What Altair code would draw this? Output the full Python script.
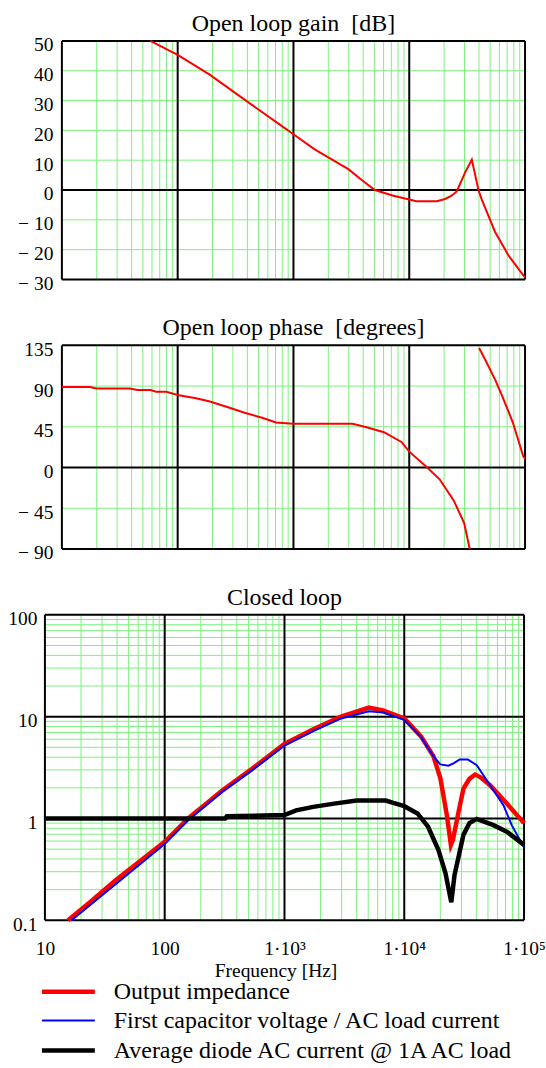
import altair as alt
import pandas as pd

FONT = "Liberation Serif"
GRID_GREEN = "#80f080"
RED, BLUE, BLACK = "#ff0000", "#0000ff", "#000000"

# Frequency axis (Hz)
F_LO, F_HI = 10, 100000
DECADES = [10, 100, 1000, 10000, 100000]
MINOR_F = [m * d for d in DECADES[:-1] for m in range(2, 10)]

# Open-loop gain [dB]
gain_f = [58, 100, 189, 378, 757, 1000, 1513, 2978, 3960, 5050, 7300, 10000,
          11500, 17300, 20400, 23000, 25700, 30400, 34700, 39600, 42400,
          55000, 71800, 96700, 100000]
gain_db = [50, 45.3, 38.7, 30.3, 22, 18.7, 13.7, 7, 3.1, 0, -1.9, -3.2,
           -3.8, -3.8, -3.0, -2.0, -0.5, 5.9, 10.2, 0, -3.3,
           -14, -21.9, -28.6, -29.4]

# Open-loop phase [degrees], two branches (wraps at -90 / +135)
phase_f = [10, 17.4, 20, 38.6, 45, 58.5, 65, 80, 100, 144, 190, 268, 379, 536,
           707, 1000, 3240, 4280, 6050, 8560, 10000, 13900, 18300, 24200,
           29800, 33300,
           40100, 45100, 55500, 63800, 78500, 96600, 100000]
phase_deg = [89, 89, 87.3, 87.3, 85.6, 85.6, 83.8, 83.8, 80.2, 76.6, 73, 66.9,
             60.5, 55, 49.7, 48.3, 48.3, 44.4, 39, 28.2, 17.5, 1.4, -13, -36.3,
             -61.3, -90,
             132, 119.6, 96.3, 78.4, 49.7, 12.1, 10]
phase_branch = [1] * 26 + [2] * 7

# Closed loop responses
SERIES = ["Output impedance",
          "First capacitor voltage / AC load current",
          "Average diode AC current @ 1A AC load"]

zout_f = [15.6, 24.2, 38.5, 100, 157, 306, 522, 1000, 1741, 2970, 5070, 6630,
          10000, 13800, 17500, 20000, 22700, 24500, 25500, 28400, 31200,
          35000, 39000, 43000, 52000, 71800, 100000]
zout_v = [0.1, 0.153, 0.245, 0.59, 1.0, 1.9, 3.0, 5.4, 7.5, 10.0, 12.3, 11.5,
          9.6, 6.4, 4.1, 2.5, 1.07, 0.55, 0.62, 1.16, 1.97,
          2.45, 2.7, 2.55, 2.12, 1.4, 0.9]

vcap_f = [16.7, 100, 157, 306, 522, 1000, 1741, 2970, 5070, 6630, 10000,
          13800, 17500, 20000, 23400, 26000, 29000, 34000, 40300, 52000,
          67300, 78900, 100000]
vcap_v = [0.1, 0.56, 0.96, 1.85, 2.9, 5.2, 7.2, 9.6, 11.3, 11.0, 9.3,
          6.3, 4.1, 3.4, 3.3, 3.5, 3.8, 3.8, 3.33, 2.12,
          1.35, 0.86, 0.52]

idio_f = [10, 320, 330, 1000, 1250, 1740, 2600, 4000, 7000, 8100, 10000,
          12900, 15800, 19300, 22100, 24700, 26300, 31200, 35000, 40300,
          55500, 71800, 100000]
idio_v = [1.0, 1.0, 1.05, 1.08, 1.2, 1.3, 1.4, 1.5, 1.5, 1.42, 1.32,
          1.12, 0.83, 0.49, 0.29, 0.15, 0.28, 0.69, 0.9, 0.99,
          0.86, 0.74, 0.55]

GAIN_TICKS = list(range(-30, 60, 10))
PHASE_TICKS = [-90, -45, 0, 45, 90, 135]
CL_TICKS = [0.1, 1, 10, 100]

# Open-loop panels: plot starts 17 px right of the closed-loop panel
DEC_PX = 116
LEFT_GAP = 17
ol_x_scale = alt.Scale(type="log", domain=[10 ** (1 - LEFT_GAP / DEC_PX), F_HI], nice=False)
ol_width = round(DEC_PX * 4 + LEFT_GAP)


def vrules(values, color, width, x_enc):
    return alt.Chart(pd.DataFrame({"f": values})).mark_rule(
        color=color, strokeWidth=width).encode(x=x_enc)


def hrules(values, color, width, x_scale, x_axis, y_enc):
    df = pd.DataFrame({"v": values, "x0": [F_LO] * len(values), "x1": [F_HI] * len(values)})
    return alt.Chart(df).mark_rule(color=color, strokeWidth=width).encode(
        x=alt.X("x0:Q", scale=x_scale, axis=x_axis),
        x2="x1:Q",
        y=y_enc,
    )


def open_loop_panel(title, ticks, black_ticks, domain, height, data, label_expr):
    x_enc = alt.X("f:Q", scale=ol_x_scale, axis=None)
    y_axis = alt.Axis(values=ticks, title=None, offset=-LEFT_GAP, labelPadding=9,
                      labelOffset=4, labelExpr=label_expr, labelOverlap=False)
    y_enc = alt.Y("v:Q", scale=alt.Scale(domain=domain, nice=False, zero=False), axis=y_axis)
    line = alt.Chart(data).mark_line(color=RED, strokeWidth=2).encode(
        x=x_enc, y=y_enc, detail="b:N")
    layers = [
        vrules(MINOR_F, GRID_GREEN, 1, x_enc),
        hrules(ticks, GRID_GREEN, 1, ol_x_scale, None, y_enc),
        vrules(DECADES, BLACK, 2, x_enc),
        hrules(black_ticks, BLACK, 2, ol_x_scale, None, y_enc),
        line,
    ]
    return alt.layer(*layers).properties(
        width=ol_width, height=height,
        title=alt.TitleParams(title, dx=LEFT_GAP / 2, offset=-1),
    )


gain_df = pd.DataFrame({"f": gain_f, "v": gain_db, "b": [1] * len(gain_f)})
phase_df = pd.DataFrame({"f": phase_f, "v": phase_deg, "b": phase_branch})

neg_expr = "datum.value < 0 ? '\u2212 ' + abs(datum.value) : '' + datum.value"

p_gain = open_loop_panel("Open loop gain \u00a0[dB]", GAIN_TICKS, [-30, 0, 50], [-30, 50], 239,
                         gain_df, neg_expr)
p_phase = open_loop_panel("Open loop phase \u00a0[degrees]", PHASE_TICKS, [-90, 0, 135],
                          [-90, 135], 204, phase_df, neg_expr)

# Closed-loop panel
cl_x_scale = alt.Scale(type="log", domain=[F_LO, F_HI], nice=False)
cl_x_axis = alt.Axis(
    values=DECADES, title="Frequency [Hz]", labelFlush=False, labelOverlap=False,
    labelPadding=19, titleY=56, titleX=231, titleBaseline="alphabetic",
    labelExpr="datum.value < 1000 ? '' + datum.value : '1\u00b710' + "
              "(datum.value == 1000 ? '\u00b3' : datum.value == 10000 ? '\u2074' : '\u2075')",
)
cl_x = alt.X("f:Q", scale=cl_x_scale, axis=cl_x_axis)
cl_y_scale = alt.Scale(type="log", domain=[0.1, 100], nice=False)
cl_y = alt.Y("v:Q", scale=cl_y_scale,
             axis=alt.Axis(values=CL_TICKS, title=None, labelPadding=8, labelOffset=4,
                           labelOverlap=False, labelExpr="'' + datum.value"))

minor_v = [m * d for d in [0.1, 1, 10] for m in range(2, 10)]

cl_df = pd.concat([
    pd.DataFrame({"f": zout_f, "v": zout_v, "series": SERIES[0]}),
    pd.DataFrame({"f": vcap_f, "v": vcap_v, "series": SERIES[1]}),
    pd.DataFrame({"f": idio_f, "v": idio_v, "series": SERIES[2]}),
], ignore_index=True)

# The series legend is shared by the concatenation, so it is placed relative
# to the first panel's plot origin. The line glyph is a path twice as wide as
# the symbol box, which keeps the rows compact.
legend = alt.Legend(title=None, orient="none", legendX=8, legendY=937, padding=0,
                    symbolType="M-2,0H2", symbolSize=702, labelOffset=30,
                    labelLimit=600, rowPadding=2)

cl_lines = alt.Chart(cl_df).mark_line().encode(
    x=cl_x,
    y=cl_y,
    color=alt.Color("series:N", scale=alt.Scale(domain=SERIES, range=[RED, BLUE, BLACK]),
                    legend=legend),
    strokeWidth=alt.StrokeWidth("series:N",
                                scale=alt.Scale(type="ordinal", domain=SERIES, range=[4.5, 2, 4.5]),
                                legend=legend),
)

p_cl = alt.layer(
    vrules(MINOR_F, GRID_GREEN, 1, cl_x),
    hrules(minor_v, GRID_GREEN, 1, cl_x_scale, cl_x_axis, cl_y),
    vrules(DECADES, BLACK, 2, cl_x),
    hrules(CL_TICKS, BLACK, 2, cl_x_scale, cl_x_axis, cl_y),
    cl_lines,
).properties(
    width=480, height=306,
    title=alt.TitleParams("Closed loop", offset=-1),
)

chart = alt.vconcat(p_gain, p_phase, p_cl, spacing=66, bounds="flush").properties(
    padding={"left": 7, "top": 11, "right": 0, "bottom": 0}
).configure_view(stroke=None).configure_axis(
    labelFont=FONT, labelFontSize=19.5, labelColor=BLACK,
    titleFont=FONT, titleFontSize=19.5, titleFontWeight="normal", titleColor=BLACK,
    domain=False, ticks=False, grid=False,
).configure_legend(
    labelFont=FONT, labelFontSize=24, labelColor=BLACK,
).configure_title(
    font=FONT, fontSize=24, fontWeight="normal", color=BLACK,
)

chart.save("out.html", embed_options={"renderer": "svg", "actions": False})
